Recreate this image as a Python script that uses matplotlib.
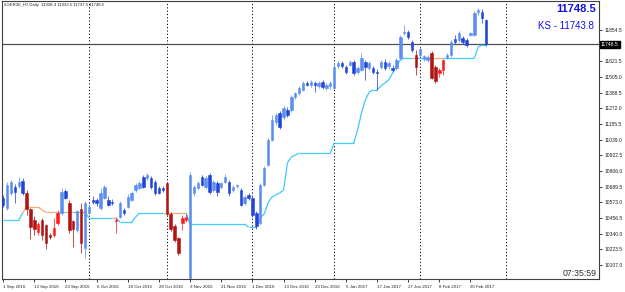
import matplotlib
matplotlib.use("Agg")
import matplotlib.pyplot as plt
from matplotlib.collections import LineCollection

plt.rcParams['font.family'] = ['Liberation Sans', 'DejaVu Sans']

# --- daily bars #GER30_H7, 1 Sep 2016 .. 24 Feb 2017 ---
opens = [
    10605, 10531, 10643, 10687, 10695, 10732, 10643, 10524, 10440, 10350,
    10442, 10405, 10330, 10330, 10419, 10494, 10658, 10568, 10434, 10367,
    10524, 10233, 10494, 10591, 10591, 10531, 10605, 10591, 10576, 10434,
    10464, 10516, 10539, 10591, 10665, 10680, 10762, 10754, 10754, 10725,
    10680, 10680, 10717, 10486, 10397, 10308, 10419, 10442, 10010, 10643,
    10680, 10762, 10687, 10777, 10665, 10717, 10687, 10725, 10725, 10665,
    10695, 10665, 10568, 10628, 10605, 10494, 10419, 10702, 10851, 11037,
    11171, 11238, 11208, 11260, 11260, 11357, 11387, 11409, 11461, 11446,
    11461, 11439, 11468, 11424, 11439, 11424, 11588, 11610, 11580, 11595,
    11617, 11543, 11558, 11617, 11573, 11573, 11543, 11580, 11617, 11588,
    11573, 11573, 11647, 11833, 11841, 11766, 11669, 11669, 11640, 11632,
    11684, 11580, 11535, 11558, 11655, 11669, 11788, 11781, 11796, 11781,
    11818, 11818, 11989, 11989, 11928.4,
]
highs = [
    10628, 10725, 10739, 10710, 10762, 10754, 10665, 10531, 10470, 10430,
    10457, 10412, 10345, 10457, 10516, 10680, 10672, 10591, 10442, 10516,
    10568, 10583, 10561, 10620, 10605, 10680, 10702, 10620, 10598, 10464,
    10583, 10531, 10635, 10658, 10717, 10732, 10777, 10791, 10769, 10739,
    10695, 10695, 10725, 10501, 10412, 10315, 10479, 10486, 10799, 10702,
    10732, 10777, 10769, 10791, 10739, 10732, 10725, 10784, 10739, 10702,
    10710, 10680, 10628, 10643, 10620, 10509, 10717, 10844, 11052, 11223,
    11238, 11253, 11290, 11283, 11372, 11394, 11439, 11476, 11476, 11483,
    11476, 11476, 11483, 11461, 11476, 11610, 11625, 11625, 11595, 11632,
    11632, 11588, 11684, 11632, 11625, 11588, 11565, 11632, 11640, 11625,
    11595, 11647, 11818, 11893, 11855, 11781, 11707, 11729, 11669, 11669,
    11700, 11595, 11573, 11640, 11684, 11781, 11818, 11848, 11811, 11796,
    11841, 11997, 12019, 12011, 11933.5,
]
lows = [
    10539, 10516, 10628, 10568, 10680, 10628, 10479, 10300, 10330, 10330,
    10293, 10226, 10300, 10315, 10405, 10479, 10598, 10345, 10241, 10353,
    10196, 10159, 10486, 10561, 10546, 10516, 10598, 10546, 10553, 10345,
    10457, 10479, 10531, 10583, 10650, 10672, 10680, 10739, 10672, 10628,
    10635, 10650, 10479, 10360, 10278, 10181, 10367, 10427, 9995, 10620,
    10672, 10695, 10672, 10635, 10650, 10620, 10672, 10717, 10620, 10650,
    10680, 10546, 10553, 10591, 10464, 10375, 10405, 10695, 10844, 11030,
    11149, 11119, 11186, 11208, 11245, 11342, 11372, 11401, 11439, 11431,
    11394, 11424, 11416, 11409, 11416, 11416, 11573, 11573, 11528, 11588,
    11521, 11528, 11550, 11483, 11558, 11528, 11409, 11565, 11558, 11565,
    11543, 11558, 11640, 11818, 11788, 11692, 11521, 11655, 11625, 11617,
    11490, 11460, 11506, 11521, 11640, 11655, 11751, 11766, 11751, 11729,
    11811, 11811, 11967, 11907, 11737.5,
]
closes = [
    10553, 10702, 10725, 10650, 10725, 10643, 10524, 10390, 10375, 10415,
    10330, 10271, 10318, 10382, 10494, 10650, 10605, 10367, 10375, 10510,
    10271, 10568, 10539, 10576, 10568, 10643, 10687, 10553, 10568, 10440,
    10568, 10494, 10613, 10643, 10702, 10717, 10687, 10777, 10687, 10643,
    10643, 10665, 10486, 10375, 10293, 10196, 10457, 10464, 10777, 10687,
    10717, 10702, 10754, 10650, 10725, 10650, 10717, 10762, 10643, 10687,
    10702, 10553, 10613, 10605, 10479, 10400, 10702, 10829, 11037, 11186,
    11223, 11134, 11275, 11223, 11357, 11387, 11424, 11461, 11446, 11468,
    11446, 11461, 11431, 11446, 11461, 11580, 11610, 11588, 11543, 11617,
    11535, 11573, 11647, 11580, 11610, 11543, 11535, 11617, 11573, 11610,
    11558, 11632, 11803, 11841, 11803, 11707, 11580, 11714, 11662, 11655,
    11498, 11475, 11558, 11632, 11669, 11766, 11766, 11833, 11766, 11744,
    11833, 11982, 12004, 11945, 11748.5,
]
# Kijun-sen (KS) line
ks = [
    10442, 10442, 10442, 10442, 10442, 10494, 10539, 10539, 10539, 10539,
    10516, 10501, 10501, 10501, 10501, 10501, 10501, 10501, 10501, 10501,
    10501, 10501, 10457, 10457, 10457, 10457, 10457, 10457, 10457, 10457,
    10427, 10427, 10427, 10427, 10464, 10494, 10494, 10494, 10494, 10494,
    10494, 10494, 10494, 10494, 10494, 10494, 10494, 10494, 10412, 10412,
    10412, 10412, 10412, 10412, 10412, 10412, 10412, 10412, 10412, 10412,
    10412, 10412, 10412, 10390, 10390, 10390, 10457, 10486, 10568, 10613,
    10628, 10643, 10665, 10866, 10911, 10925, 10940, 10940, 10940, 10940,
    10940, 10940, 10940, 10940, 10940, 11015, 11015, 11015, 11015, 11015,
    11015, 11111, 11238, 11335, 11394, 11409, 11409, 11439, 11461, 11483,
    11535, 11588, 11632, 11647, 11647, 11647, 11647, 11647, 11647, 11647,
    11647, 11647, 11647, 11647, 11647, 11647, 11647, 11647, 11647, 11647,
    11647, 11647, 11729, 11743.8, 11743.8,
]

date_ticks = [0, 8, 16, 24, 32, 40, 48, 56, 64, 72, 80, 88, 96, 104, 112, 120]
date_labels = ["1 Sep 2016", "13 Sep 2016", "23 Sep 2016", "6 Oct 2016",
               "18 Oct 2016", "28 Oct 2016", "9 Nov 2016", "21 Nov 2016",
               "1 Dec 2016", "13 Dec 2016", "23 Dec 2016", "5 Jan 2017",
               "17 Jan 2017", "27 Jan 2017", "8 Feb 2017", "20 Feb 2017"]
price_ticks = [10107.0, 10223.5, 10340.0, 10456.5, 10573.0, 10689.5, 10806.0,
               10922.5, 11039.0, 11155.5, 11272.0, 11388.5, 11505.0, 11621.5,
               11854.5]
month_starts = [22, 42, 64, 85, 107, 129]
last_price = 11748.5
ks_last = 11743.8
header = "#GER30_H7,Daily  11928.4 11933.5 11737.5 11748.5"
clock = "07:35:59"

# colours: above KS -> blue, below KS -> red; bull light, bear dark
BULL_UP, BEAR_UP = "#5a8ef0", "#1f44d6"
BEAR_DN, BULL_DN = "#b01414", "#ff1a1a"
KS_UP, KS_DN = "#3cc8ff", "#f4a870"

W, H = 625, 292
fig = plt.figure(figsize=(W / 100, H / 100), dpi=100)
ax = fig.add_axes([2 / W, 1 - 279 / H, 597 / W, 278 / H])

n = len(closes)
xs = list(range(n))
colors = []
for o, c, k in zip(opens, closes, ks):
    if c >= k:
        colors.append(BULL_UP if c >= o else BEAR_UP)
    else:
        colors.append(BULL_DN if c >= o else BEAR_DN)

# separators and bid line underneath
for m in month_starts:
    ax.axvline(m, color="black", lw=0.7, ls=(0, (1.2, 2.2)), zorder=1)
ax.axhline(last_price, color="#505050", lw=0.9, zorder=1)

# KS line, orange where price closes below it
segs, seg_cols = [], []
for i in range(n - 1):
    segs.append([(i, ks[i]), (i + 1, ks[i + 1])])
    seg_cols.append(KS_DN if closes[i + 1] < ks[i + 1] else KS_UP)
ax.add_collection(LineCollection(segs, colors=seg_cols, linewidths=0.9, zorder=2))

# candles
ax.vlines(xs, lows, highs, colors=colors, linewidth=0.7, alpha=0.75, zorder=3)
bottoms = [min(o, c) for o, c in zip(opens, closes)]
heights = [abs(c - o) for o, c in zip(opens, closes)]
ax.bar(xs, heights, bottom=bottoms, width=0.62, color=colors,
       edgecolor=colors, linewidth=0.4, zorder=4)

ax.set_xlim(-0.3, 153)
ax.set_ylim(10003, 12071)

ax.yaxis.tick_right()
ax.set_yticks(price_ticks)
ax.set_yticklabels([f"{v:.1f}" for v in price_ticks])
ax.set_xticks(date_ticks)
ax.set_xticklabels(date_labels, ha="left")
ax.tick_params(axis="y", labelsize=3.6, length=2.5, width=0.6, pad=1.2,
               colors="#202020")
ax.tick_params(axis="x", labelsize=3.2, length=2.5, width=0.6, pad=2.0,
               colors="#202020")
for s in ax.spines.values():
    s.set_color("#404040")
    s.set_linewidth(0.8)

# current price tag on the axis
ax.text(1.003, last_price, f"{last_price:.1f}", transform=ax.get_yaxis_transform(),
        ha="left", va="center", fontsize=3.6, color="white",
        bbox=dict(facecolor="black", edgecolor="black", pad=0.8))

fig.text(4 / W, 1 - 5 / H, header, fontsize=3.1, va="center", color="#202020")
fig.text(596 / W, 1 - 9 / H, f"{last_price:.1f}", ha="right", va="center",
         fontsize=8, fontweight="bold", color="#1010e6")
fig.text(594 / W, 1 - 26 / H, f"KS - {ks_last:.1f}", ha="right", va="center",
         fontsize=7, color="#1010e6")
fig.text(597 / W, 1 - 274 / H, clock, ha="right", va="center",
         fontsize=6.3, color="#303030")

fig.savefig("out.png", dpi=100)
